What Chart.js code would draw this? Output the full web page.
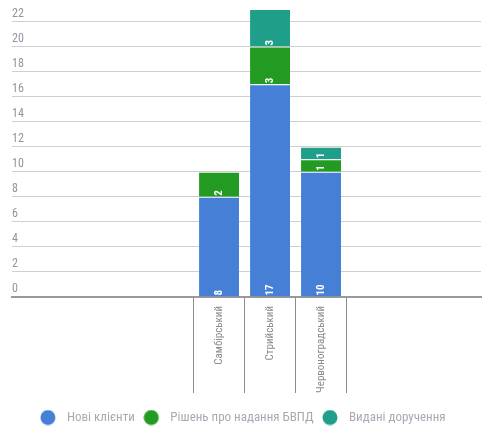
<!DOCTYPE html>
<html>
<head>
<meta charset="utf-8">
<script src="https://cdn.jsdelivr.net/npm/chart.js@4/dist/chart.umd.min.js"></script>
<style>
  html, body { margin: 0; padding: 0; background: #fff; }
  #wrap { width: 494px; height: 445px; }
</style>
</head>
<body>
<div id="wrap"><canvas id="chart" width="494" height="445"></canvas></div>
<script>
// Data -----------------------------------------------------------------------------------

var districts = ['Самбірський', 'Стрийський', 'Червоноградський'];
var newClients = [8, 17, 10];
var decisions = [2, 3, 1];
var orders = [0, 3, 1];
var seriesNames = ['Нові клієнти', 'Рішень про надання БВПД', 'Видані доручення'];

// Constants ------------------------------------------------------------------------------

var FONT = '"Roboto Condensed", "DejaVu Sans Condensed", sans-serif';
var COLORS = ['#4680d6', '#239b22', '#1f9e89'];

// Functions ------------------------------------------------------------------------------

// legend dot: a 15px circle sitting on the left side of a wider canvas,
// so the text stands a bit further away from it
function legendDot(color) {
    var c = document.createElement('canvas');
    c.width = 28;
    c.height = 16;
    var g = c.getContext('2d');
    g.fillStyle = color;
    g.beginPath();
    g.arc(8, 8, 7.5, 0, Math.PI * 2);
    g.fill();
    return c;
}

// white value written at the bottom of every stacked segment, reading upwards
var segmentLabels = {
    id: 'segmentLabels',
    afterDatasetsDraw: function (chart) {
        var ctx = chart.ctx;
        ctx.save();
        ctx.font = 'bold 11px ' + FONT;
        ctx.fillStyle = '#fff';
        ctx.textAlign = 'left';
        ctx.textBaseline = 'middle';
        chart.data.datasets.forEach(function (ds, di) {
            chart.getDatasetMeta(di).data.forEach(function (bar, i) {
                var v = ds.data[i];
                if (!v) return;
                var p = bar.getProps(['x', 'base'], true);
                ctx.save();
                ctx.translate(p.x, p.base - 1);
                ctx.rotate(-Math.PI / 2);
                ctx.fillText(String(v), 0, 0);
                ctx.restore();
            });
        });
        ctx.restore();
    }
};

// Chart ----------------------------------------------------------------------------------

var context = document.getElementById('chart').getContext('2d');

var chart = new Chart(context, {
    type: 'bar',
    data: {
        labels: districts.map(function (d, i) { return i; }),
        datasets: [newClients, decisions, orders].map(function (values, i) {
            return {
                label: seriesNames[i],
                data: values,
                backgroundColor: COLORS[i],
                borderColor: 'rgba(255,255,255,0.25)',
                borderWidth: { top: 1 },
                pointStyle: legendDot(COLORS[i]),
                categoryPercentage: 0.8,
                barPercentage: 0.98
            };
        })
    },
    options: {
        responsive: false,
        animation: false,
        layout: { padding: { left: 12, right: 13, top: 9, bottom: 11 } },
        plugins: {
            tooltip: { enabled: false },
            legend: {
                position: 'bottom',
                labels: {
                    usePointStyle: true,
                    boxHeight: 10,
                    padding: 16,
                    color: '#a9a9b3',
                    font: { family: FONT, size: 13 }
                }
            }
        },
        scales: {
            x: {
                type: 'linear',
                stacked: true,
                offset: false,
                min: -4.06,
                max: 5.137,
                afterBuildTicks: function (scale) {
                    scale.ticks = districts.map(function (d, i) { return { value: i }; });
                },
                afterFit: function (scale) { scale.height = 98; },
                ticks: {
                    autoSkip: false,
                    minRotation: 90,
                    maxRotation: 90,
                    padding: -87,
                    color: '#8a8a8a',
                    font: { family: FONT, size: 11 },
                    callback: function (v, i) { return districts[i]; }
                },
                grid: {
                    offset: true,
                    drawOnChartArea: false,
                    color: '#8c8c8c',
                    tickLength: 96
                },
                border: { color: '#999', width: 2 }
            },
            y: {
                stacked: true,
                min: 0,
                max: 23,
                ticks: {
                    stepSize: 2,
                    includeBounds: false,
                    mirror: true,
                    padding: 0,
                    labelOffset: -8,
                    color: '#8f95a3',
                    font: { family: FONT, size: 12 }
                },
                grid: { color: '#cfcfcf', drawTicks: false },
                border: { display: false }
            }
        }
    },
    plugins: [segmentLabels]
});
</script>
</body>
</html>
